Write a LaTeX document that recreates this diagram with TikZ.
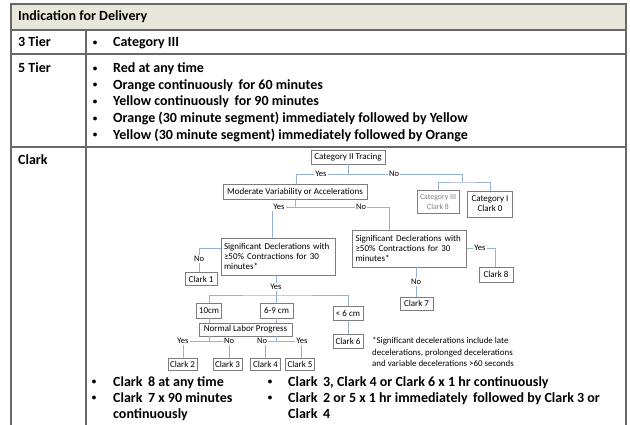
\documentclass[tikz,border=0pt]{standalone}
\usepackage{fontspec}
\setmainfont{Carlito}
\definecolor{headfill}{RGB}{233,231,220}
\definecolor{gridgray}{RGB}{105,105,105}
\definecolor{boxgray}{RGB}{125,125,125}
\definecolor{linkblue}{RGB}{150,178,216}
\begin{document}
\begin{tikzpicture}[x=1pt, y=-1pt,
    gridline/.style={draw=gridgray, line width=1.2pt},
    rowtext/.style={anchor=base west, inner sep=0pt, font=\fontsize{14}{16}\selectfont\bfseries},
    dot/.style={anchor=base, inner sep=0pt, yshift=1.5pt, font=\fontsize{9}{12}\selectfont\bfseries},
    chartbox/.style={draw=boxgray, line width=0.7pt, inner sep=1pt, align=center, font=\fontsize{9}{10}\selectfont},
    sigbox/.style={chartbox, align=left, text width=108pt, minimum height=37pt, inner sep=3pt},
    ans/.style={fill=white, inner sep=1.5pt, font=\fontsize{8.5}{9}\selectfont},
    link/.style={draw=linkblue, line width=0.8pt}]
  \useasboundingbox (0,0) rectangle (630,424);

  % table
  \fill [headfill] (11,4) rectangle (626,30);
  \draw [gridline] (11,426) -- (11,4) -- (626,4) -- (626,426);
  \draw [gridline] (11,30) -- (626,30);
  \draw [gridline] (11,54) -- (626,54);
  \draw [gridline] (11,147) -- (626,147);
  \draw [gridline] (86,30) -- (86,426);

  \node [rowtext] (head) at (18,20.5) {Indication for Delivery};
  \node [rowtext] (tier3) at (18,46.5) {3 Tier};
  \node [rowtext] (tier5) at (18,72.5) {5 Tier};
  \node [rowtext] (clark) at (18,164.5) {Clark};

  \node [dot] (d1) at (95,46.5) {•};
  \node [rowtext] (t1) at (113,46.5) {Category III};
  \node [dot] (d2) at (95,72.5) {•};
  \node [rowtext] (t2) at (113,72.5) {Red at any time};
  \node [dot] (d3) at (95,89.2) {•};
  \node [rowtext] (t3) at (113,89.2) {Orange continuously \,for 60 minutes};
  \node [dot] (d4) at (95,105.9) {•};
  \node [rowtext] (t4) at (113,105.9) {Yellow continuously \,for 90 minutes};
  \node [dot] (d5) at (95,122.6) {•};
  \node [rowtext] (t5) at (113,122.6) {Orange (30 minute segment) immediately followed by Yellow};
  \node [dot] (d6) at (95,139.3) {•};
  \node [rowtext] (t6) at (113,139.3) {Yellow (30 minute segment) immediately followed by Orange};

  % flow chart
  \node [chartbox, minimum width=74pt, minimum height=14pt] (cat2) at (348,157) {Category II Tracing};
  \node [chartbox, minimum width=144pt, minimum height=15pt] (mod) at (295,192) {Moderate Variability or Accelerations};
  \node [chartbox, minimum width=42pt, minimum height=23pt, text=gray, font=\fontsize{7.8}{10}\selectfont] (cat3) at (438,202) {Category III\\Clark 8};
  \node [chartbox, minimum width=45pt, minimum height=26pt] (cat1) at (490,204) {Category I\\Clark 0};
  \node [sigbox] (sig1) at (278,256.5) {Significant Declerations with\\≥50\% Contractions for 30\\minutes*};
  \node [sigbox] (sig2) at (409.5,248.5) {Significant Declerations with\\≥50\% Contractions for 30\\minutes*};
  \node [chartbox, minimum width=32pt, minimum height=13pt] (clark1) at (201,279) {Clark 1};
  \node [chartbox, minimum width=34pt, minimum height=15pt] (clark8) at (496,274.5) {Clark 8};
  \node [chartbox, minimum width=33pt, minimum height=13pt] (clark7) at (416.5,303.5) {Clark 7};
  \node [chartbox, minimum width=25pt, minimum height=15pt] (cm10) at (209,310.5) {10cm};
  \node [chartbox, minimum width=33pt, minimum height=15pt] (cm69) at (276.5,310.5) {6-9 cm};
  \node [chartbox, minimum width=30pt, minimum height=14pt] (cm6) at (348,313.5) {< 6 cm};
  \node [chartbox, minimum width=93pt, minimum height=13pt] (normal) at (245.5,329.5) {Normal Labor Progress};
  \node [chartbox, minimum width=30pt, minimum height=14pt] (clark6) at (348,341) {Clark 6};
  \node [chartbox, minimum width=29pt, minimum height=12pt] (clark2) at (182.5,364) {Clark 2};
  \node [chartbox, minimum width=29pt, minimum height=12pt] (clark3) at (227.5,364) {Clark 3};
  \node [chartbox, minimum width=30pt, minimum height=12pt] (clark4) at (265.5,364) {Clark 4};
  \node [chartbox, minimum width=29pt, minimum height=12pt] (clark5) at (300,364) {Clark 5};
  \node [anchor=north west, align=left, inner sep=0pt, font=\fontsize{8.9}{11.5}\selectfont] (note) at (372,337)
    {*Significant decelerations include late\\decelerations, prolonged decelerations\\and variable decelerations >60 seconds};

  \coordinate (top l) at (296,174);
  \coordinate (top r) at (462,174);
  \coordinate (cat r) at (462,182);
  \coordinate (mod l) at (272,207);
  \coordinate (mod r) at (389,207);
  \coordinate (sig1 no) at (199,248);
  \coordinate (sig2 yes) at (495,248);
  \coordinate (cm bar) at (276,295);
  \coordinate (lab l) at (183,341);
  \coordinate (lab r) at (229,341);
  \coordinate (lab ll) at (265,341);
  \coordinate (lab rr) at (301,341);

  \draw [link] (cat2.south) -- (cat2.south |- top l);
  \draw [link] (mod.north -| top l) -- (top l) -- (top r) -- (cat r);
  \draw [link] (cat3.north) |- (cat r) -| (cat1.north);
  \draw [link] (mod.south) -- (mod.south |- mod l);
  \draw [link] (sig1.north -| mod l) -- (mod l) -- (mod r) -- (sig2.north -| mod r);
  \draw [link] (sig1.west |- sig1 no) -- (sig1 no) -- (clark1.north -| sig1 no);
  \draw [link] (sig2.east |- sig2 yes) -- (sig2 yes) -- (clark8.north -| sig2 yes);
  \draw [link] (sig2.south -| clark7) -- (clark7.north);
  \draw [link] (sig1.south -| cm bar) -- (cm bar);
  \draw [link] (cm10.north) |- (cm bar) -| (cm6.north);
  \draw [link] (cm69.north) -- (cm69.north |- cm bar);
  \draw [link] (cm10.south) -- (normal.north -| cm10.south);
  \draw [link] (cm69.south) -- (normal.north -| cm69.south);
  \draw [link] (cm6.south) -- (clark6.north);
  \draw [link] (normal.south -| cm10.south) -- (cm10.south |- lab l);
  \draw [link] (normal.south -| cm69.south) -- (cm69.south |- lab l);
  \draw [link] (clark2.north -| lab l) -- (lab l) -- (lab r) -- (clark3.north -| lab r);
  \draw [link] (clark4.north -| lab ll) -- (lab ll) -- (lab rr) -- (clark5.north -| lab rr);

  \node [ans] (yes1) at (321,174) {Yes};
  \node [ans] (no1) at (394,174) {No};
  \node [ans] (yes2) at (279,207) {Yes};
  \node [ans] (no2) at (361,207) {No};
  \node [ans] (no3) at (199,259) {No};
  \node [ans] (yes3) at (480,248) {Yes};
  \node [ans] (no4) at (416,282) {No};
  \node [ans] (yes4) at (276,287) {Yes};
  \node [ans] (yes5) at (183,341) {Yes};
  \node [ans] (no5) at (229,341) {No};
  \node [ans] (no6) at (262,341) {No};
  \node [ans] (yes6) at (302,341) {Yes};

  % bottom bullets
  \node [dot] (d7) at (94,386) {•};
  \node [rowtext] (t7) at (113,386) {Clark \,8 at any time};
  \node [dot] (d8) at (94,402) {•};
  \node [rowtext] (t8) at (113,402) {Clark \,7 x 90 minutes};
  \node [rowtext] (t9) at (113,418) {continuously};
  \node [dot] (d9) at (270,386) {•};
  \node [rowtext] (t10) at (288,386) {Clark \,3, Clark 4 or Clark 6 x 1 hr continuously};
  \node [dot] (d10) at (270,402) {•};
  \node [rowtext] (t11) at (288,402) {Clark \,2 or 5 x 1 hr immediately \,followed by Clark 3 or};
  \node [rowtext] (t12) at (288,418) {Clark \,4};
\end{tikzpicture}
\end{document}
